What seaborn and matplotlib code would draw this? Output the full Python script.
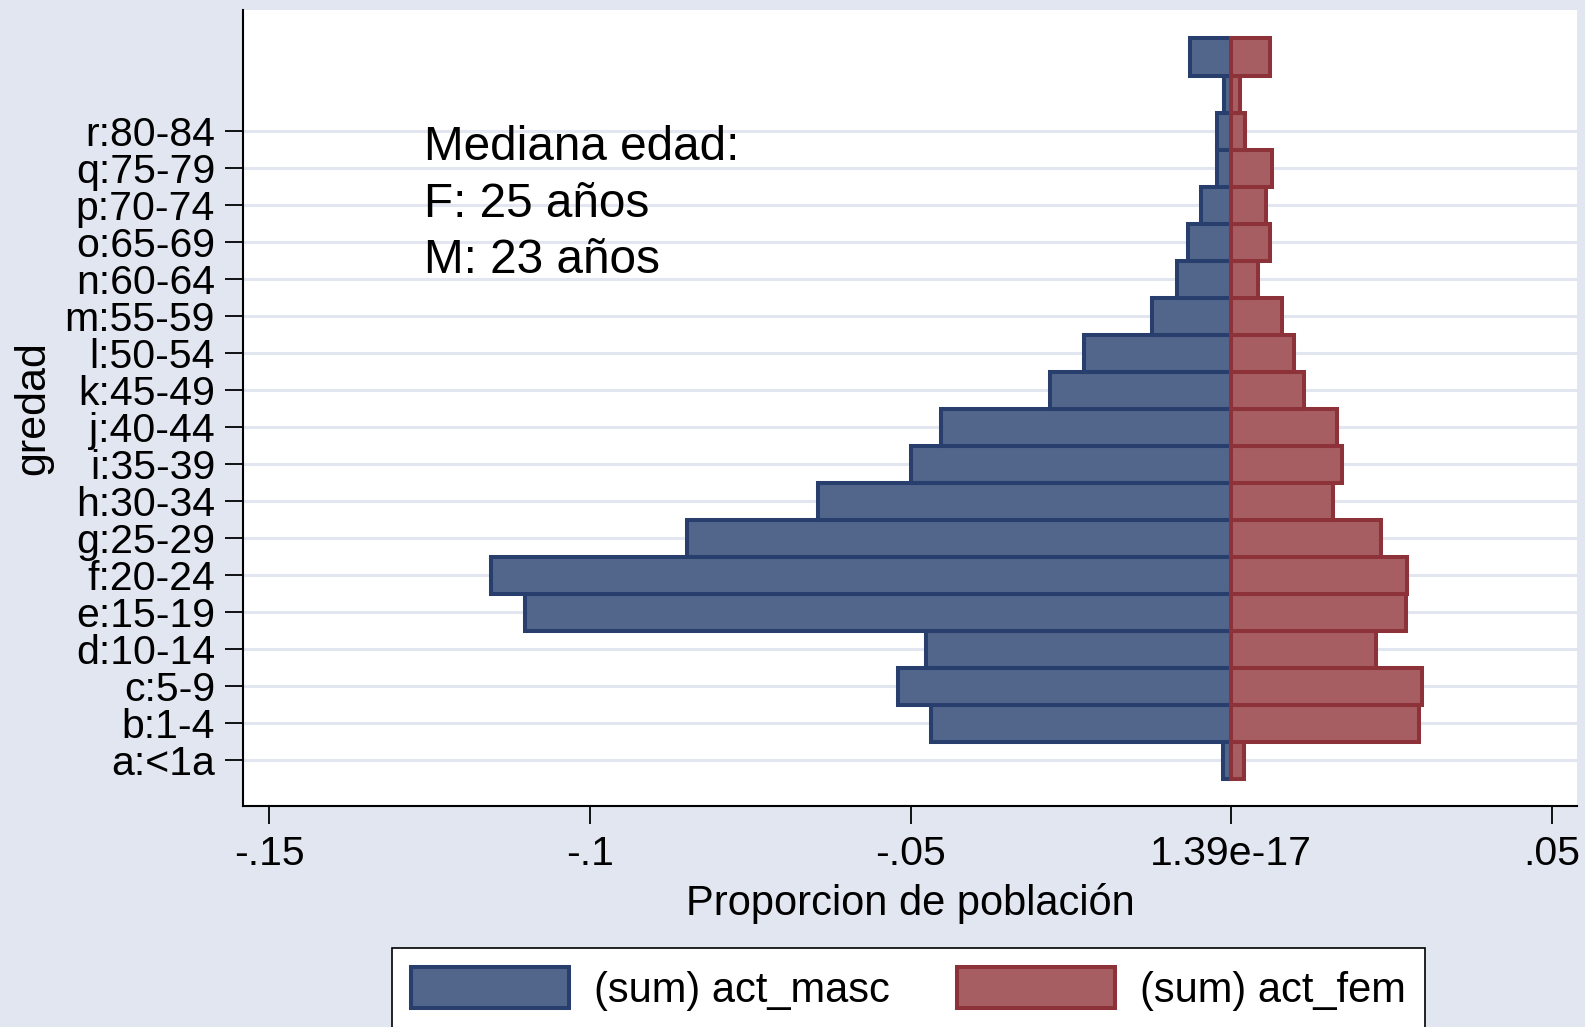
import numpy as np
import pandas as pd
import matplotlib
matplotlib.use("Agg")
import matplotlib.pyplot as plt
import seaborn as sns

# age groups, bottom to top (the two top groups carry no label in the original)
tick_labels = ["a:<1a", "b:1-4", "c:5-9", "d:10-14", "e:15-19", "f:20-24",
               "g:25-29", "h:30-34", "i:35-39", "j:40-44", "k:45-49",
               "l:50-54", "m:55-59", "n:60-64", "o:65-69", "p:70-74",
               "q:75-79", "r:80-84"]
gredad = np.arange(1, 21)

# proportions (males plotted as negatives)
act_masc = [-0.0013, -0.0468, -0.0519, -0.0476, -0.1101, -0.1155,
            -0.0849, -0.0644, -0.0500, -0.0453, -0.0282, -0.0229,
            -0.0123, -0.0085, -0.0068, -0.0047, -0.0022, -0.0022,
            -0.0011, -0.0065]
act_fem = [0.0019, 0.0292, 0.0297, 0.0226, 0.0272, 0.0274,
           0.0234, 0.0159, 0.0173, 0.0165, 0.0114, 0.0097,
           0.0079, 0.0041, 0.0060, 0.0054, 0.0063, 0.0022,
           0.0014, 0.0060]

x_ticks = [-0.15, -0.10, -0.05, 0.0, 0.05]
x_tick_labels = ["-.15", "-.1", "-.05", "1.39e-17", ".05"]

df = pd.DataFrame({"gredad": gredad, "act_masc": act_masc, "act_fem": act_fem})

bg = "#E1E6F0"
navy_fill, navy_edge = "#52668B", "#283F6E"
red_fill, red_edge = "#A65E63", "#8E323A"

sns.set_theme(style="white")
plt.rcParams["font.family"] = ["Liberation Sans", "DejaVu Sans"]
plt.rcParams["text.color"] = "black"
plt.rcParams["axes.labelcolor"] = "black"
plt.rcParams["xtick.color"] = "black"
plt.rcParams["ytick.color"] = "black"

fig = plt.figure(figsize=(15.85, 10.27), dpi=100, facecolor=bg)
ax = fig.add_axes([243 / 1585, 1 - 806 / 1027, 1334 / 1585, 796 / 1027])
ax.set_facecolor("white")

sns.barplot(data=df, x="act_masc", y="gredad", orient="h", native_scale=True,
            width=1.0, color=navy_fill, edgecolor=navy_edge, linewidth=2.9,
            saturation=1, errorbar=None, label="(sum) act_masc", ax=ax)
sns.barplot(data=df, x="act_fem", y="gredad", orient="h", native_scale=True,
            width=1.0, color=red_fill, edgecolor=red_edge, linewidth=2.9,
            saturation=1, errorbar=None, label="(sum) act_fem", ax=ax)

ax.set_xlim(-0.1541, 0.0539)
ax.set_ylim(-0.24, 21.27)

ax.set_yticks(gredad[:len(tick_labels)])
ax.set_yticklabels(tick_labels)
ax.set_xticks(x_ticks)
ax.set_xticklabels(x_tick_labels)
ax.tick_params(axis="both", labelsize=29.5, length=13, width=1.3,
               color="black", labelcolor="black", direction="out",
               left=True, bottom=True)
ax.tick_params(axis="y", pad=7)
ax.tick_params(axis="x", pad=8)
ax.yaxis.grid(True, color=bg, linewidth=2.2)
ax.xaxis.grid(False)
ax.set_axisbelow(True)

for side in ["top", "right"]:
    ax.spines[side].set_visible(False)
for side in ["left", "bottom"]:
    ax.spines[side].set_color("black")
    ax.spines[side].set_linewidth(1.5)

ax.set_xlabel("Proporcion de población", fontsize=30, labelpad=7)
ax.set_ylabel("gredad", fontsize=31, labelpad=8)

# median age note
notes = ["Mediana edad:", "F: 25 años", "M: 23 años"]
for i, txt in enumerate(notes):
    ax.text(0.1357, [0.8116, 0.740, 0.6696][i], txt, transform=ax.transAxes,
            fontsize=34.4, va="baseline", ha="left")

leg = ax.legend(loc="upper left", bbox_to_anchor=(392 / 1585, 1 - 948 / 1027),
                bbox_transform=fig.transFigure, ncol=2, fontsize=30,
                frameon=True, fancybox=False, borderaxespad=0, borderpad=0.45,
                handlelength=3.8, handleheight=1.15, handletextpad=0.6,
                columnspacing=1.6)
leg.get_frame().set_edgecolor("black")
leg.get_frame().set_linewidth(1.2)
leg.get_frame().set_facecolor("white")
leg.get_frame().set_alpha(1)

fig.savefig("out.png", dpi=100, facecolor=bg)
